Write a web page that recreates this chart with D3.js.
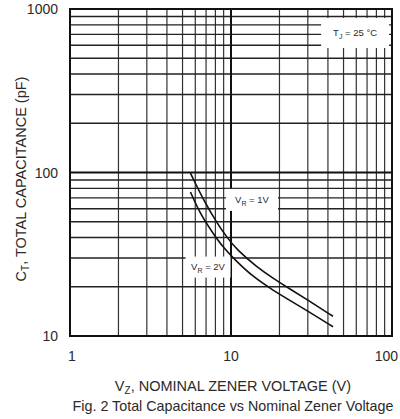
<!DOCTYPE html>
<html lang="en">
<head>
<meta charset="UTF-8" />
<title>Total Capacitance vs Nominal Zener Voltage</title>
<script src="https://cdn.jsdelivr.net/npm/d3@7"></script>
<style>
  html, body { margin: 0; padding: 0; background: #fff; }
  svg { display: block; }
  text { font-family: "Liberation Sans", Arial, sans-serif; fill: #2a2a2a; }
</style>
</head>
<body>
<script>
// curve data (V, pF)
var vr1Volts = [5.6, 6.9, 8.2, 9.4, 10.9, 14.5, 18.2, 23.2, 30, 43];
var vr1Cap   = [99, 65, 49, 40.3, 33.6, 26.4, 22.6, 19.4, 16.6, 13.2];
var vr2Volts = [5.6, 6.4, 7.7, 8.9, 10.6, 13.7, 18.2, 22.3, 30, 43];
var vr2Cap   = [76, 56.5, 42.7, 35, 29.2, 23, 19.1, 16.9, 14.2, 11.4];

var xTicks = [1, 10, 100];
var yTicks = [10, 100, 1000];
var xMinor = [2, 3, 4, 5, 6, 7, 8, 9, 20, 30, 40, 50, 60, 70, 80, 90];
var yMinor = [20, 30, 40, 50, 60, 70, 80, 90, 200, 300, 400, 500, 600, 700, 800, 900];

var w = 400, h = 419;
var pL = 70, pR = 392, pT = 9, pB = 336;

var svg = d3.select("body").append("svg")
  .attr("width", w).attr("height", h);

svg.append("rect").attr("width", w).attr("height", h).attr("fill", "#fff");

var x = d3.scaleLog().domain([1, 100]).range([pL, pR]);
var y = d3.scaleLog().domain([10, 1000]).range([pB, pT]);

// grid
var grid = svg.append("g");
grid.selectAll("line.xm").data(xMinor).enter().append("line")
  .attr("x1", function(d) { return x(d); }).attr("x2", function(d) { return x(d); })
  .attr("y1", pT).attr("y2", pB)
  .attr("stroke", "#333").attr("stroke-width", 1.2);
grid.selectAll("line.ym").data(yMinor).enter().append("line")
  .attr("y1", function(d) { return y(d); }).attr("y2", function(d) { return y(d); })
  .attr("x1", pL).attr("x2", pR)
  .attr("stroke", "#222").attr("stroke-width", 1.4);
grid.selectAll("line.xM").data(xTicks).enter().append("line")
  .attr("x1", function(d) { return x(d); }).attr("x2", function(d) { return x(d); })
  .attr("y1", pT).attr("y2", pB)
  .attr("stroke", "#111").attr("stroke-width", 2);
grid.selectAll("line.yM").data(yTicks).enter().append("line")
  .attr("y1", function(d) { return y(d); }).attr("y2", function(d) { return y(d); })
  .attr("x1", pL).attr("x2", pR)
  .attr("stroke", "#111").attr("stroke-width", 2);

// label boxes blank out the grid
var notes = [
  { v: 59, c: 713, w: 68, h: 30, main: "T", sub: "J", rest: " = 25 °C" },
  { v: 13.5, c: 68, w: 52, h: 22, main: "V", sub: "R", rest: " = 1V" },
  { v: 7.2, c: 26.4, w: 45, h: 21, main: "V", sub: "R", rest: " = 2V" }
];
notes.forEach(function(n) {
  svg.append("rect")
    .attr("x", x(n.v) - n.w / 2).attr("y", y(n.c) - n.h / 2)
    .attr("width", n.w).attr("height", n.h)
    .attr("fill", "#fff");
  var t = svg.append("text")
    .attr("x", x(n.v)).attr("y", y(n.c) + 3)
    .attr("text-anchor", "middle")
    .style("font-size", "9.5px");
  t.append("tspan").text(n.main);
  t.append("tspan").attr("dy", 3).style("font-size", "7px").text(n.sub);
  t.append("tspan").attr("dy", -3).text(n.rest);
});

// curves
var line = d3.line()
  .x(function(d) { return x(d[0]); })
  .y(function(d) { return y(d[1]); })
  .curve(d3.curveBasis);

svg.append("path")
  .datum(d3.zip(vr1Volts, vr1Cap))
  .attr("d", line)
  .attr("fill", "none").attr("stroke", "#111").attr("stroke-width", 1.6);
svg.append("path")
  .datum(d3.zip(vr2Volts, vr2Cap))
  .attr("d", line)
  .attr("fill", "none").attr("stroke", "#111").attr("stroke-width", 1.6);

// frame
svg.append("rect")
  .attr("x", pL).attr("y", pT)
  .attr("width", pR - pL).attr("height", pB - pT)
  .attr("fill", "none").attr("stroke", "#111").attr("stroke-width", 2);

// tick labels
svg.selectAll("text.yl").data(yTicks).enter().append("text")
  .attr("class", "yl")
  .attr("x", 58).attr("y", function(d) { return y(d) + 5; })
  .attr("text-anchor", "end")
  .style("font-size", "14px")
  .text(function(d) { return d; });
svg.selectAll("text.xl").data(xTicks).enter().append("text")
  .attr("class", "xl")
  .attr("x", function(d) { return d == 100 ? 398 : x(d) + (d == 1 ? 2 : 0); })
  .attr("y", 361)
  .attr("text-anchor", function(d) { return d == 100 ? "end" : "middle"; })
  .style("font-size", "14px")
  .text(function(d) { return d; });

// axis titles
var xt = svg.append("text")
  .attr("x", 233).attr("y", 391)
  .attr("text-anchor", "middle")
  .style("font-size", "14.5px");
xt.append("tspan").text("V");
xt.append("tspan").attr("dy", 3).style("font-size", "10px").text("Z");
xt.append("tspan").attr("dy", -3).text(", NOMINAL ZENER VOLTAGE (V)");

var yt = svg.append("text")
  .attr("transform", "translate(26,179) rotate(-90)")
  .attr("text-anchor", "middle")
  .style("font-size", "14.5px");
yt.append("tspan").text("C");
yt.append("tspan").attr("dy", 3).style("font-size", "10px").text("T");
yt.append("tspan").attr("dy", -3).text(", TOTAL CAPACITANCE (pF)");

svg.append("text")
  .attr("x", 233).attr("y", 411)
  .attr("text-anchor", "middle")
  .style("font-size", "14.3px")
  .text("Fig. 2 Total Capacitance vs Nominal Zener Voltage");
</script>
</body>
</html>
